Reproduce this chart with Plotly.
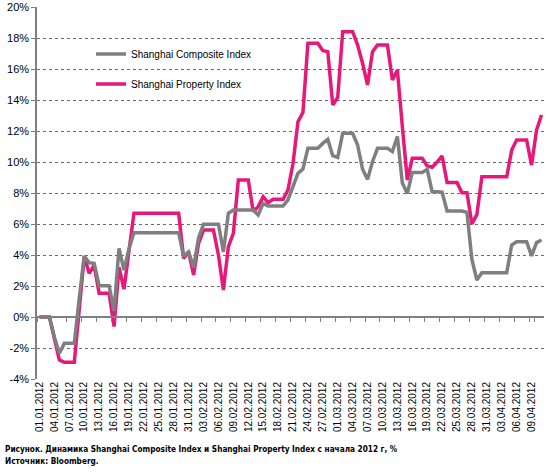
import pandas as pd
import plotly.graph_objects as go

# Categories: daily dates 01.01.2012 .. 11.04.2012
dates = [d.strftime("%d.%m.%Y") for d in pd.date_range("2012-01-01", "2012-04-11", freq="D")]
tick_labels = dates[::3][:34]  # 01.01.2012 ... 09.04.2012

composite = [
    0, 0, 0, -1.3, -2.34, -1.70, -1.70, -1.70, 1.2, 3.94,
    3.5, 3.46, 2.02, 2.02, 2.02, 0.4, 4.43, 3.03, 4.4, 5.44,
    5.44, 5.44, 5.44, 5.44, 5.44, 5.44, 5.44, 5.44, 5.44, 3.9,
    4.2, 3.2, 5.1, 5.98, 5.98, 5.98, 5.98, 4.2, 6.69, 6.9,
    6.9, 6.9, 6.9, 6.9, 6.58, 7.33, 7.16, 7.16, 7.16, 7.16,
    7.55, 8.4, 9.27, 9.55, 10.88, 10.88, 10.88, 11.2, 11.46, 10.41,
    10.3, 11.85, 11.85, 11.85, 11.1, 9.53, 8.88, 10.02, 10.88, 10.88,
    10.88, 10.67, 11.65, 8.64, 7.96, 9.33, 9.33, 9.33, 9.53, 8.08,
    8.08, 8.05, 6.84, 6.84, 6.84, 6.84, 6.75, 3.7, 2.39, 2.86,
    2.86, 2.86, 2.86, 2.86, 2.86, 4.65, 4.86, 4.86, 4.86, 3.94,
    4.8, 4.97,
]

property_idx = [
    0, 0, 0, -1.4, -2.77, -2.92, -2.92, -2.92, 0.5, 3.89,
    2.82, 3.35, 1.53, 1.53, 1.53, -0.62, 3.2, 1.8, 4.4, 6.69,
    6.69, 6.69, 6.69, 6.69, 6.69, 6.69, 6.69, 6.69, 6.69, 3.78,
    4.2, 2.71, 4.75, 5.61, 5.61, 5.61, 4.0, 1.74, 4.54, 5.4,
    8.84, 8.84, 8.84, 6.8, 7.12, 7.76, 7.37, 7.59, 7.59, 7.59,
    8.2, 9.9, 12.6, 13.2, 17.66, 17.66, 17.66, 17.18, 17.12, 13.68,
    14.17, 18.41, 18.41, 18.41, 17.55, 16.37, 14.97, 17.12, 17.55, 17.55,
    17.55, 15.29, 15.94, 12.3, 8.84, 10.24, 10.24, 10.24, 9.74, 9.66,
    10.0, 10.39, 8.67, 8.67, 8.67, 8.02, 8.02, 6.0, 6.62, 9.05,
    9.05, 9.05, 9.05, 9.05, 9.05, 10.77, 11.42, 11.42, 11.42, 9.8,
    12.06, 13.03,
]

series_names = ["Shanghai Composite Index", "Shanghai Property Index"]
colors = ["#7F7F7F", "#E6197B"]
y_ticks = list(range(-4, 21, 2))

caption1 = "Рисунок. Динамика Shanghai Composite Index и Shanghai Property Index с начала 2012 г, %"
caption2 = "Источник: Bloomberg."

FONT = "Liberation Sans, Arial, sans-serif"
CAP_FONT = "DejaVu Sans Condensed, DejaVu Sans, sans-serif"

fig = go.Figure()
fig.add_trace(go.Scatter(
    x=dates, y=composite, name=series_names[0], mode="lines",
    line=dict(color=colors[0], width=3.5), xaxis="x2", yaxis="y", legend="legend",
))
fig.add_trace(go.Scatter(
    x=dates, y=property_idx, name=series_names[1], mode="lines",
    line=dict(color=colors[1], width=3.5), xaxis="x", yaxis="y", legend="legend2",
))

xr = [-0.5, len(dates) - 0.5]
L, R, T, B = 37, 4, 7, 93
PW, PH = 548 - L - R, 472 - T - B


def px_to_paper_x(px):
    return (px - L) / PW


def px_to_paper_y(py):
    return (472 - B - py) / PH


fig.update_layout(
    width=548, height=472,
    margin=dict(l=L, r=R, t=T, b=B, autoexpand=False),
    paper_bgcolor="white", plot_bgcolor="white",
    font=dict(family=FONT, color="black"),
    showlegend=True,
    xaxis=dict(
        type="category", categoryorder="array", categoryarray=dates, range=xr,
        tickmode="array", tickvals=tick_labels, ticktext=tick_labels,
        tickangle=-90, tickfont=dict(size=10, family=FONT, color="black"),
        showline=False, ticks="", showgrid=False, zeroline=False,
        anchor="y", automargin=False,
    ),
    xaxis2=dict(
        type="category", categoryorder="array", categoryarray=dates, range=xr,
        overlaying="x", anchor="free", position=4 / 24,
        tickmode="array", tickvals=tick_labels, tickson="boundaries",
        ticks="outside", ticklen=4, tickcolor="#808080", tickwidth=1,
        showline=True, linecolor="#808080", linewidth=1.5,
        showticklabels=False, showgrid=False, zeroline=False, automargin=False,
    ),
    yaxis=dict(
        range=[-4, 20], tickmode="array", tickvals=y_ticks,
        ticktext=[f"{v}%" for v in y_ticks],
        tickfont=dict(size=11, family=FONT, color="black"),
        showline=True, linecolor="#808080", linewidth=1.5,
        ticks="outside", ticklen=4, tickcolor="#808080",
        showgrid=True, gridcolor="#6a6a6a", gridwidth=1, griddash="dot",
        zeroline=False, automargin=False,
    ),
    legend=dict(
        x=px_to_paper_x(91), y=px_to_paper_y(54), xanchor="left", yanchor="middle",
        bgcolor="rgba(0,0,0,0)", font=dict(size=10, family=FONT, color="black"),
        itemwidth=30,
    ),
    legend2=dict(
        x=px_to_paper_x(91), y=px_to_paper_y(84), xanchor="left", yanchor="middle",
        bgcolor="rgba(0,0,0,0)", font=dict(size=10, family=FONT, color="black"),
        itemwidth=30,
    ),
    annotations=[
        dict(text="<b>" + caption1 + "</b>", xref="paper", yref="paper",
             x=px_to_paper_x(3), y=px_to_paper_y(449),
             xanchor="left", yanchor="middle", showarrow=False,
             font=dict(size=8.2, family=CAP_FONT, color="black")),
        dict(text="<b>" + caption2 + "</b>", xref="paper", yref="paper",
             x=px_to_paper_x(3), y=px_to_paper_y(461),
             xanchor="left", yanchor="middle", showarrow=False,
             font=dict(size=8.2, family=CAP_FONT, color="black")),
    ],
)

fig.write_html("out.html", config={"displayModeBar": False},
               post_script="document.body.style.margin='0';")
